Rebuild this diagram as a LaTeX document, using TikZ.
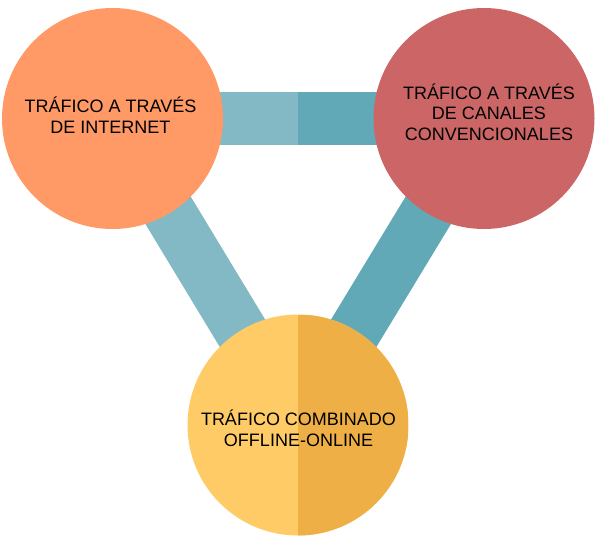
\documentclass[tikz,border=0pt]{standalone}
\usepackage{fontspec}
\setmainfont{Liberation Sans}
\usetikzlibrary{positioning}
\usetikzlibrary{backgrounds}

\definecolor{webcol}{HTML}{FF9966}
\definecolor{convcol}{HTML}{CC6666}
\definecolor{mixlight}{HTML}{FECB66}
\definecolor{mixdark}{HTML}{EEB046}
\definecolor{barlight}{HTML}{82B9C5}
\definecolor{bardark}{HTML}{62A9B8}

\begin{document}
\begin{tikzpicture}[
    x=1pt, y=-1pt,
    canal/.style={circle, minimum size=221pt, inner sep=0pt},
    rotulo/.style={align=center, inner sep=0pt, text depth=0pt,
        font=\fontsize{18}{20.8}\selectfont},
    barra/.style={line width=53pt, line cap=butt}
]
\useasboundingbox (0,0) rectangle (596,546);

% --- Circles ---
\node[canal, fill=webcol] (web) at (112.5,118.5) {};
\node[canal, fill=convcol] (conv) at (484,118.5) {};
\node[canal, fill=mixlight,
    path picture={\fill[mixdark] (path picture bounding box.north)
        rectangle (path picture bounding box.south east);}]
    (mix) at (298,425) {};

% --- Labels ---
\node[rotulo] (webtxt) at (110.5,115) {TRÁFICO A TRAVÉS\\DE INTERNET};
\node[rotulo] (convtxt) at (489,112) {TRÁFICO A TRAVÉS\\DE CANALES\\CONVENCIONALES};
\node[rotulo] (mixtxt) at (298.5,428) {TRÁFICO COMBINADO\\OFFLINE-ONLINE};

% --- Bars between the circles ---
\coordinate (topmid) at (298,118.5);
\begin{pgfonlayer}{background}
    \draw[barra, barlight] (web.center) -- (topmid);
    \draw[barra, bardark] (topmid) -- (conv.center);
    \draw[barra, barlight] (web.center) -- (mix.center);
    \draw[barra, bardark] (conv.center) -- (mix.center);
\end{pgfonlayer}

\end{tikzpicture}
\end{document}
